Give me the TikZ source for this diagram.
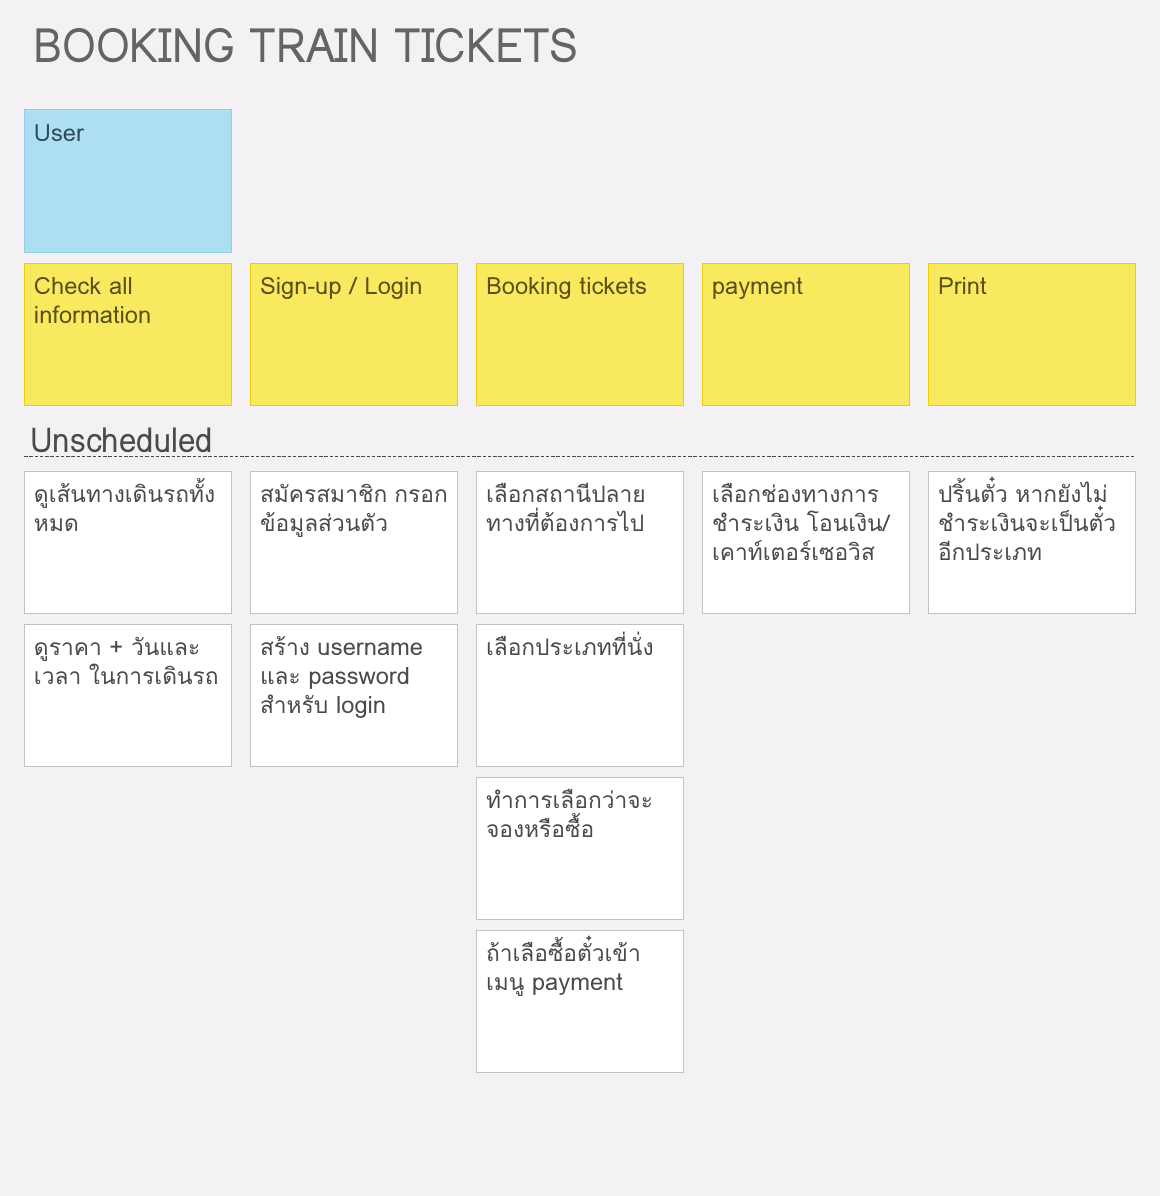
\documentclass[tikz,border=0pt]{standalone}
\usepackage{fontspec}
\setmainfont[Script=Thai]{Loma}
\newfontfamily\titlefont[Script=Thai, FakeStretch=0.915]{Loma}
\newfontfamily\thaifont[Script=Thai, Scale=0.96]{Loma}

\definecolor{bgcol}{HTML}{F4F1F5}
\definecolor{titlecol}{HTML}{646464}
\definecolor{cardline}{HTML}{C4C1C5}
\definecolor{cardtxt}{HTML}{4A4A4A}
\definecolor{userfill}{HTML}{AEDEF2}
\definecolor{userline}{HTML}{8FCFEC}
\definecolor{usertxt}{HTML}{2F4B5A}
\definecolor{yelfill}{HTML}{F8E95F}
\definecolor{yelline}{HTML}{EFCB0A}
\definecolor{yeltxt}{HTML}{5A5018}

% fixed first baseline and line pitch, lines break only at \\
\newcommand{\cardbody}[1]{\parbox[t][2.46cm][t]{3.76cm}{\lineskiplimit=-\maxdimen\raggedright
  \null\par\vspace{\dimexpr 12pt-\baselineskip\relax}#1}}
\newcommand{\latinw}[1]{{\rmfamily #1}}

\tikzset{
  card/.style={draw=cardline, fill=white, line width=0.02cm, anchor=north west,
    inner sep=0.2cm, outer sep=0pt, minimum width=4.16cm, minimum height=2.86cm,
    text=cardtxt, font=\thaifont\fontsize{13.5}{16.5}\selectfont},
  usercard/.style={card, draw=userline, fill=userfill, text=usertxt, font=\rmfamily\fontsize{13.5}{16.5}\selectfont},
  yelcard/.style={card, draw=yelline, fill=yelfill, text=yeltxt, font=\rmfamily\fontsize{13.5}{16.5}\selectfont}
}

\begin{document}
\begin{tikzpicture}[x=0.02cm, y=-0.02cm]
    \fill[bgcol] (0,0) rectangle (1160,1196);
    \node[anchor=base west, inner sep=0pt, text=titlecol, font=\titlefont\fontsize{27}{32}\selectfont] (title) at (33,63) {BOOKING TRAIN TICKETS};

    \node[usercard] (user) at (24,110) {\cardbody{User}};

    \node[yelcard] (check) at (24,263) {\cardbody{Check all\\information}};
    \node[yelcard] (login) at (250,263) {\cardbody{Sign-up~/~Login}};
    \node[yelcard] (book) at (476,263) {\cardbody{Booking~tickets}};
    \node[yelcard] (pay) at (702,263) {\cardbody{payment}};
    \node[yelcard] (print) at (928,263) {\cardbody{Print}};

    \node[anchor=base west, inner sep=0pt, text=cardtxt, font=\titlefont\fontsize{19.5}{24}\selectfont] (unsched) at (30,452) {Unscheduled};
    \coordinate (ruleL) at (24,456);
    \coordinate (ruleR) at (1136,456);
    \draw[cardtxt, line width=0.02cm, dash pattern=on 2pt off 1pt] (ruleL) -- (ruleR);

    % check all information
    \node[card] (checkA) at (24,471) {\cardbody{ดูเส้นทางเดินรถทั้ง\\หมด}};
    \node[card] (checkB) at (24,624) {\cardbody{ดูราคา~\latinw{+}~วันและ\\เวลา~ในการเดินรถ}};
    % sign-up / login
    \node[card] (loginA) at (250,471) {\cardbody{สมัครสมาชิก~กรอก\\ข้อมูลส่วนตัว}};
    \node[card] (loginB) at (250,624) {\cardbody{สร้าง~\latinw{username}\\และ~\latinw{password}\\สำหรับ~\latinw{login}}};
    % booking tickets
    \node[card] (bookA) at (476,471) {\cardbody{เลือกสถานีปลาย\\ทางที่ต้องการไป}};
    \node[card] (bookB) at (476,624) {\cardbody{เลือกประเภทที่นั่ง}};
    \node[card] (bookC) at (476,777) {\cardbody{ทำการเลือกว่าจะ\\จองหรือซื้อ}};
    \node[card] (bookD) at (476,930) {\cardbody{ถ้าเลือซื้อตั๋วเข้า\\เมนู~\latinw{payment}}};
    % payment / print
    \node[card] (payA) at (702,471) {\cardbody{เลือกช่องทางการ\\ชำระเงิน~โอนเงิน/\\เคาท์เตอร์เซอวิส}};
    \node[card] (printA) at (928,471) {\cardbody{ปริ้นตั๋ว~หากยังไม่\\ชำระเงินจะเป็นตั๋ว\\อีกประเภท}};
\end{tikzpicture}
\end{document}
